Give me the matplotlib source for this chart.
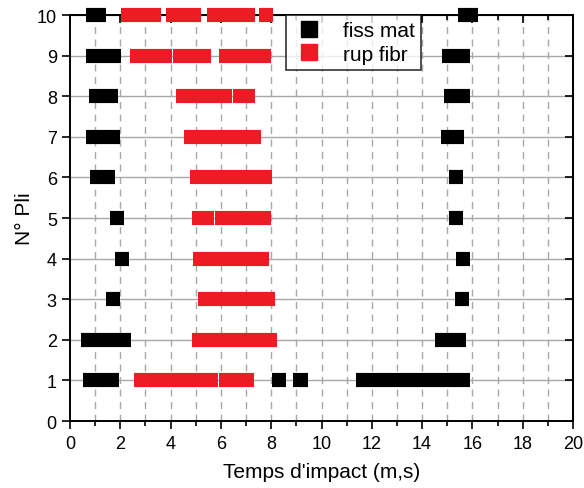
import matplotlib
matplotlib.use('Agg')
import matplotlib.pyplot as plt
from matplotlib.lines import Line2D
from matplotlib.ticker import MultipleLocator

plt.rcParams['font.family'] = ['Liberation Sans', 'DejaVu Sans']

# black segments: matrix cracking (fiss mat)
fiss_rows = [10, 10, 9, 9, 8, 8, 7, 7, 6, 6, 5, 5, 4, 4, 3, 3, 2, 2, 1, 1, 1, 1]
fiss_start = [0.64, 15.41, 0.64, 14.80, 0.76, 14.87, 0.62, 14.74, 0.81, 15.06,
              1.60, 15.06, 1.79, 15.35, 1.42, 15.30, 0.44, 14.50, 0.50, 8.03, 8.87, 11.37]
fiss_end = [1.42, 16.21, 2.04, 15.90, 1.92, 15.92, 1.99, 15.68, 1.79, 15.63,
            2.16, 15.63, 2.35, 15.92, 1.99, 15.86, 2.43, 15.75, 1.94, 8.60, 9.45, 15.92]

# red segments: fibre rupture (rup fibr)
rup_rows = [10, 10, 10, 10, 9, 9, 9, 8, 8, 7, 6, 5, 5, 4, 3, 2, 1, 1]
rup_start = [2.03, 3.82, 5.45, 7.53, 2.39, 4.09, 5.94, 4.21, 6.48, 4.53, 4.77,
             4.84, 5.76, 4.89, 5.09, 4.84, 2.56, 5.93]
rup_end = [3.62, 5.21, 7.36, 8.08, 4.06, 5.59, 7.98, 6.43, 7.37, 7.61, 8.03,
           5.73, 7.98, 7.91, 8.16, 8.23, 5.88, 7.30]

black = '#000000'
red = '#ED1C24'

fig = plt.figure(figsize=(5.84, 4.89), dpi=100)
ax = fig.add_axes([0.1199, 0.137, 0.8613, 0.830])

ax.set_xlim(0, 20)
ax.set_ylim(0, 10)

# grid: solid horizontal, dashed vertical
for y in range(1, 11):
    ax.axhline(y, color='#a8a8a8', lw=1.0, zorder=0)
for x in range(1, 20):
    ax.axvline(x, color='#a8a8a8', lw=1.0, ls=(0, (5, 4)), zorder=0)

ax.hlines(fiss_rows, fiss_start, fiss_end, colors=black, linewidth=10.2,
          capstyle='butt', zorder=3, clip_on=False)
ax.hlines(rup_rows, rup_start, rup_end, colors=red, linewidth=10.2,
          capstyle='butt', zorder=4, clip_on=False)

ax.xaxis.set_major_locator(MultipleLocator(2))
ax.xaxis.set_minor_locator(MultipleLocator(1))
ax.yaxis.set_major_locator(MultipleLocator(1))
ax.tick_params(which='major', direction='out', length=6, width=1.2, labelsize=13)
ax.tick_params(axis='x', which='major', pad=4)
ax.tick_params(which='minor', direction='out', length=3.5, width=1.2)

top = ax.secondary_xaxis('top')
top.xaxis.set_major_locator(MultipleLocator(2))
top.xaxis.set_minor_locator(MultipleLocator(1))
top.tick_params(which='major', direction='in', length=6, width=1.2, labeltop=False)
top.tick_params(which='minor', direction='in', length=3.5, width=1.2)
right = ax.secondary_yaxis('right')
right.yaxis.set_major_locator(MultipleLocator(1))
right.tick_params(direction='in', length=6, width=1.2, labelright=False)

for sp in ax.spines.values():
    sp.set_linewidth(1.4)
for sp in list(top.spines.values()) + list(right.spines.values()):
    sp.set_linewidth(1.4)

ax.set_xlabel("Temps d'impact (m,s)", fontsize=15, labelpad=7)
ax.set_ylabel("N° Pli", fontsize=15, labelpad=2)

handles = [Line2D([], [], ls='none', marker='s', ms=11, color=black),
           Line2D([], [], ls='none', marker='s', ms=11, color=red)]
leg = ax.legend(handles, ['fiss mat', 'rup fibr'], loc='upper left',
                bbox_to_anchor=(0.430, 1.0), fontsize=15, frameon=True,
                fancybox=False, edgecolor='black', borderaxespad=0,
                handlelength=1.6, handletextpad=0.8, borderpad=0.3,
                labelspacing=0.2)
leg.get_frame().set_linewidth(1.2)
leg.set_zorder(10)

fig.savefig('out.png', dpi=100)
